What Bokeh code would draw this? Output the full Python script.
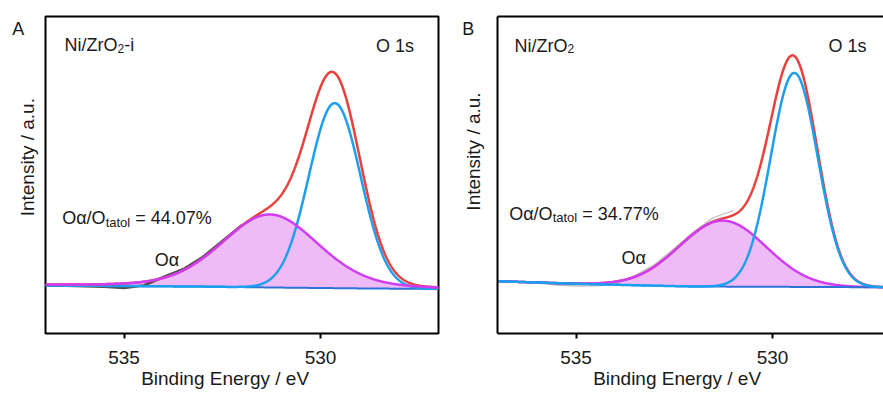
import numpy as np
from bokeh.plotting import figure
from bokeh.models import Label, Range1d, FixedTicker, LinearAxis
from bokeh.layouts import row
from bokeh.embed import file_html
from bokeh.resources import INLINE

FONT = "Liberation Sans"

# ---------------- data ----------------
x_ticks = [535, 530]
x_tick_labels = ["535", "530"]
x_title = "Binding Energy / eV"
y_title = "Intensity / a.u."
peak_names = ["Oα", "Oβ"]           # Oα = broad component, Oβ = lattice O

# Panel A : Ni/ZrO2-i   (fitted components: centre / height / FWHM / Lorentzian share)
a_bg_be = [537.0, 535.0, 533.0, 531.0, 529.0, 527.0]
a_bg = [-0.5, -1.0, -1.6, -2.6, -3.4, -4.0]
a_center = [531.29, 529.64]
a_height = [73.0, 185.0]
a_fwhm = [2.9, 1.55]
a_lor = [0.2, 0.0]
a_raw_be = [537.0, 536.5, 536.0, 535.5, 535.0, 534.5, 534.0, 533.5, 533.0, 532.5, 532.0]
a_raw = [-0.5, -0.8, -1.2, -1.8, -3.0, -0.5, 8.0, 15.8, 28.0, 44.0, 60.0]
a_ratio = "44.07%"

# Panel B : Ni/ZrO2
b_bg_be = [537.0, 535.0, 533.0, 532.0, 530.0, 527.0]
b_bg = [0.3, -2.3, -4.2, -5.0, -5.3, -5.8]
b_center = [531.27, 529.45]
b_height = [66.0, 214.0]
b_fwhm = [2.6, 1.41]
b_lor = [0.0, 0.0]
b_raw_be = [537.0, 536.5, 536.0, 535.5, 535.0, 534.5, 534.0, 533.5, 533.0, 532.5, 532.0, 531.5, 531.0]
b_raw = [0.3, -0.5, -1.5, -3.5, -4.5, -4.3, -2.5, 6.0, 17.0, 33.0, 50.0, 64.0, 71.0]
b_ratio = "34.77%"

# ---------------- styling ----------------
RED = "#E8413C"
BLUE = "#1C9FEE"
BASE = "#2E72D8"
MAG = "#D03CF2"
FILL = "#EFBBF7"
TXT = "#1a1a1a"

SCALE = 39.3   # px per eV
H = 396
TOP = 16
BOTTOM = 333
TITLE_BE = 532.43   # where the x title is centred (it is not centred on the frame)

# approximate advance widths (em) for Liberation Sans
W = {"N": .722, "i": .222, "/": .278, "Z": .611, "r": .333, "O": .778, "2": .556,
     "-": .333, "α": .579, "t": .278, "a": .556, "o": .556, "l": .222, " ": .278,
     "=": .584, "4": .556, "3": .556, ".": .278, "0": .556, "7": .556, "%": .889, "s": .5, "1": .556}


def tw(s, size):
    return sum(W.get(c, .556) for c in s) * size


def pv(x, c, h, w, eta):
    u = (x - c) / w
    return h * ((1 - eta) * np.exp(-4 * np.log(2) * u ** 2) + eta / (1 + 4 * u ** 2))


def text_fig(x0, x1):
    """blank figure in the left margin; its data coordinates equal page pixels"""
    f = figure(width=x1 - x0, height=H, output_backend="svg", toolbar_location=None,
               x_range=Range1d(x0, x1), y_range=Range1d(BOTTOM, TOP),
               x_axis_location=None, y_axis_location=None,
               min_border_left=0, min_border_right=0, min_border_top=TOP, min_border_bottom=H - BOTTOM,
               outline_line_color=None, background_fill_color="white", border_fill_color="white")
    f.grid.visible = False
    return f


def tlab(f, x, y, text, size, align="left", angle=0.0):
    f.add_layout(Label(x=x, y=y, text=text, text_font=FONT, text_font_size=f"{size}px",
                       text_color=TXT, text_align=align, text_baseline="alphabetic", angle=angle))


def make_panel(page_x0, fig_w, be_end, zero_py, bg_be, bg_v, center, height, fwhm, lor,
               raw_be, raw_v, raw_color, raw_w, red_on_top, right_border):
    left = 2
    right = 2 if right_border else 0
    p = figure(width=fig_w, height=H, output_backend="svg", toolbar_location=None,
               x_range=Range1d(537, be_end), y_range=Range1d(zero_py - BOTTOM, zero_py - TOP),
               min_border_left=left, min_border_right=right,
               min_border_top=TOP, min_border_bottom=H - BOTTOM,
               background_fill_color="white", border_fill_color="white")
    p.grid.visible = False
    if right_border:
        p.outline_line_color = "black"
        p.outline_line_width = 2
    else:
        p.outline_line_color = None

    xs = np.linspace(537, 527, 1201)
    bg = np.interp(xs, bg_be[::-1], bg_v[::-1])
    g_a = pv(xs, center[0], height[0], fwhm[0], lor[0])
    g_b = pv(xs, center[1], height[1], fwhm[1], lor[1])

    p.varea(x=xs, y1=bg, y2=bg + g_a, fill_color=FILL)
    p.line(raw_be, raw_v, line_color=raw_color, line_width=raw_w)
    if red_on_top:
        p.line(xs, bg, line_color=BASE, line_width=2)
        p.line(xs, bg + g_b, line_color=BLUE, line_width=2.5)
        p.line(xs, bg + g_a + g_b, line_color=RED, line_width=2.5)
        p.line(xs, bg + g_a, line_color=MAG, line_width=2.5)
    else:
        p.line(xs, bg + g_a + g_b, line_color=RED, line_width=2.5)
        p.line(xs, bg + g_a, line_color=MAG, line_width=2.5)
        p.line(xs, bg, line_color=BASE, line_width=2)
        p.line(xs, bg + g_b, line_color=BLUE, line_width=2.5)

    xa = p.xaxis[0]
    xa.ticker = FixedTicker(ticks=x_ticks)
    xa.major_label_overrides = {t: l for t, l in zip(x_ticks, x_tick_labels)}
    xa.minor_tick_line_color = None
    xa.major_tick_in = 0
    xa.major_tick_out = 5
    xa.major_tick_line_width = 2
    xa.major_tick_line_color = "black"
    xa.major_label_text_font = FONT
    xa.major_label_text_font_size = "19px"
    xa.major_label_text_color = TXT
    xa.major_label_standoff = 12

    # second axis below only carries the x title, centred where the reference has it
    ta = LinearAxis(ticker=FixedTicker(ticks=[TITLE_BE]),
                    major_label_overrides={TITLE_BE: x_title},
                    major_label_text_font=FONT, major_label_text_font_size="19px",
                    major_label_text_color=TXT, major_label_standoff=1,
                    major_tick_line_color=None, minor_tick_line_color=None,
                    major_tick_out=0, major_tick_in=0, axis_line_color=None)
    p.add_layout(ta, "below")

    if right_border:
        xa.axis_line_color = None
        p.yaxis.visible = False
    else:
        xa.axis_line_color = "black"
        xa.axis_line_width = 2
        p.yaxis.visible = False
        for loc in ("left", "above"):
            ax = LinearAxis(ticker=FixedTicker(ticks=[]), major_label_text_font_size="0px",
                            major_tick_line_color=None, minor_tick_line_color=None,
                            major_tick_out=0, major_tick_in=0, major_label_standoff=0,
                            axis_label_standoff=0,
                            axis_line_color="black", axis_line_width=2)
            p.add_layout(ax, loc)

    frame_left_page = page_x0 + left

    def bx(px):
        return 537 - (px - frame_left_page) / SCALE

    def vy(py):
        return zero_py - py

    def lab(px, py, text, size, align="left"):
        p.add_layout(Label(x=bx(px), y=vy(py), text=text, text_font=FONT,
                           text_font_size=f"{size}px", text_color=TXT, text_align=align,
                           text_baseline="alphabetic"))

    def rich(px, py, pieces):
        cx = px
        for text, size, dy, gap in pieces:
            cx += gap
            lab(cx, py + dy, text, size)
            cx += tw(text, size)

    return p, lab, rich


# ---------------- panel A ----------------
ta_fig = text_fig(0, 43)
tlab(ta_fig, 11.7, 28.3, "A", 18)
tlab(ta_fig, 26.7, 156.7, y_title, 19, align="center", angle=np.pi / 2)

pa, lab_a, rich_a = make_panel(43, 397, 527.0, 284.5, a_bg_be, a_bg, a_center, a_height, a_fwhm, a_lor,
                               a_raw_be, a_raw, "#505050", 2.5, True, True)
rich_a(64, 44.5, [("Ni/ZrO", 18, 0, 0), ("2", 12, 3, 0), ("-i", 18, 0, 0)])
lab_a(413.5, 45, "O 1s", 18, align="right")
rich_a(61.7, 217.7, [("Oα/O", 18, 0, 0), ("tatol", 13, 4, 0), ("= " + a_ratio, 18, 0, 5)])
lab_a(154.3, 259, peak_names[0], 18)

# ---------------- panel B ----------------
tb_fig = text_fig(440, 495)
tlab(tb_fig, 461.7, 28.3, "B", 18)
tlab(tb_fig, 473.3, 151, y_title, 19, align="center", angle=np.pi / 2)

pb, lab_b, rich_b = make_panel(495, 388, 537 - 386 / SCALE, 281.0, b_bg_be, b_bg, b_center, b_height,
                               b_fwhm, b_lor, b_raw_be, b_raw, "#BDBDBD", 1.3, False, False)
rich_b(514, 45, [("Ni/ZrO", 18, 0, 0), ("2", 12, 3, 0)])
lab_b(866, 45, "O 1s", 18, align="right")
rich_b(508.7, 213, [("Oα/O", 18, 0, 0), ("tatol", 13, 4, 0), ("= " + b_ratio, 18, 0, 5)])
lab_b(621, 257, peak_names[0], 18)

layout = row(ta_fig, pa, tb_fig, pb, spacing=0)
open("out.html", "w").write(file_html(layout, INLINE))
